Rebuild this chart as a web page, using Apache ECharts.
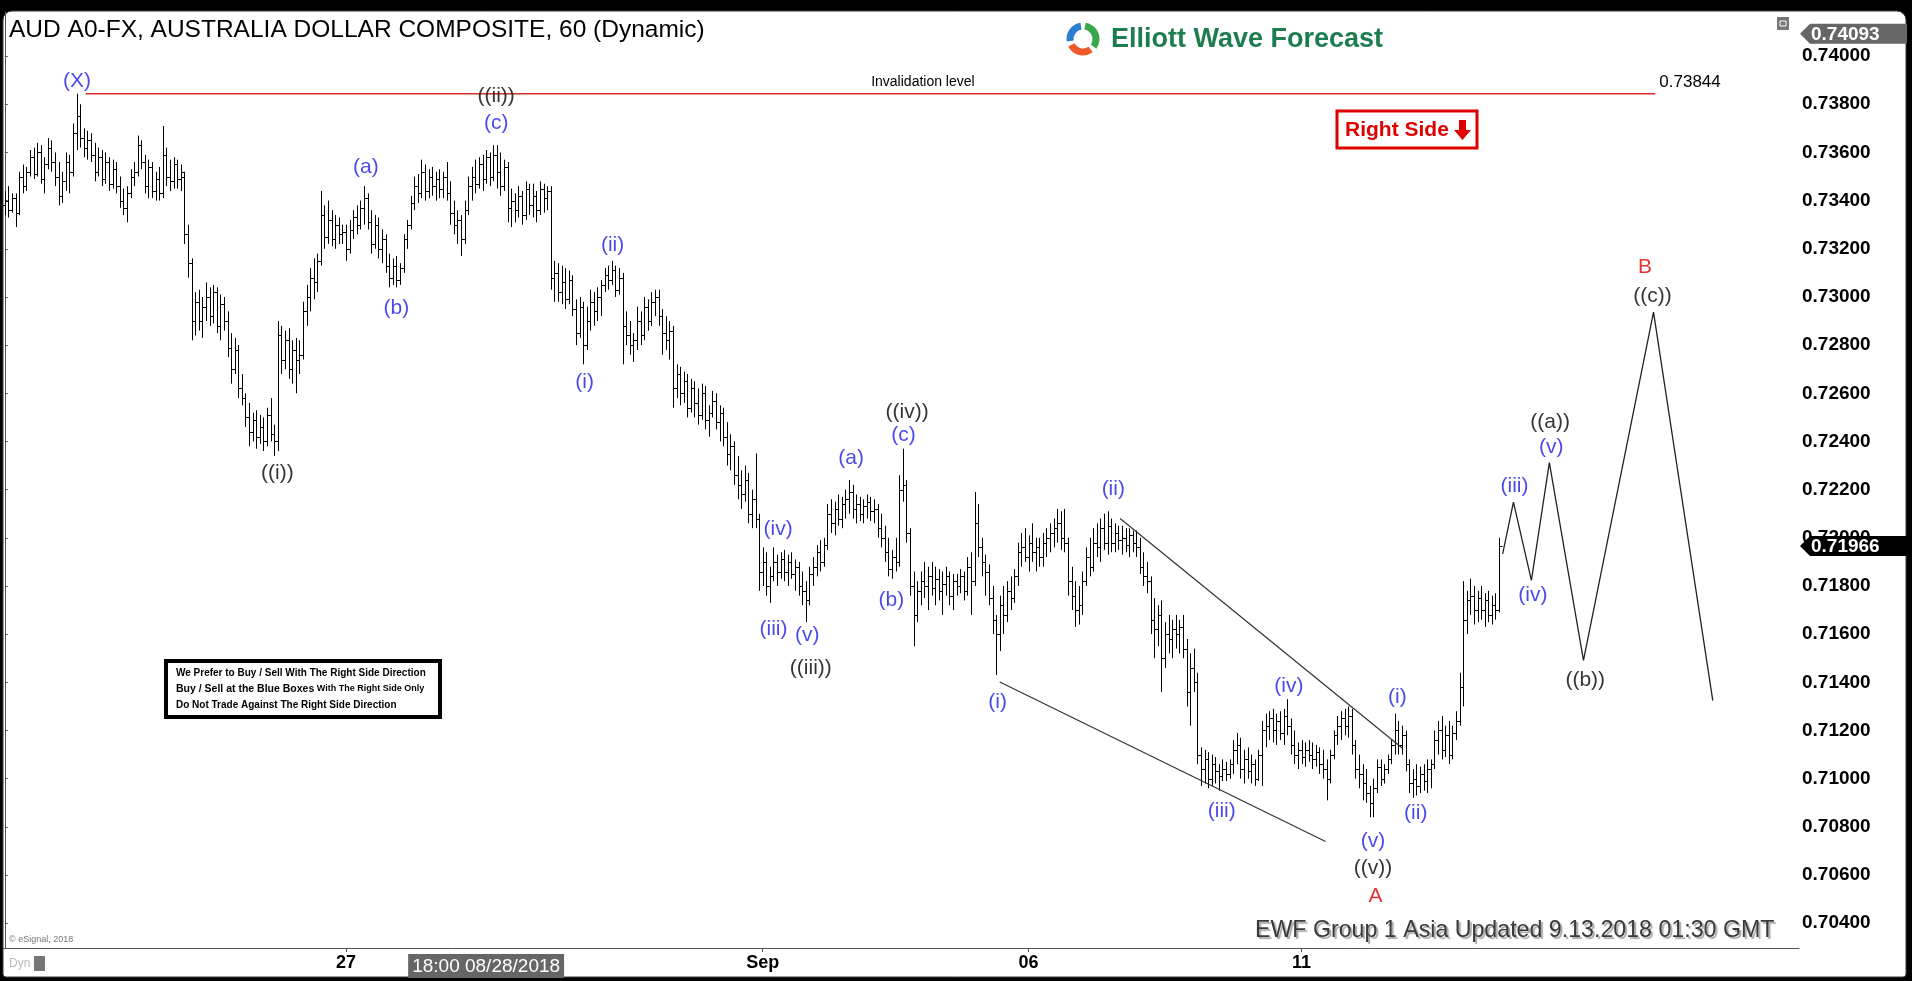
<!DOCTYPE html>
<html><head><meta charset="utf-8">
<script src="https://cdn.jsdelivr.net/npm/echarts@6.0.0/dist/echarts.min.js"></script>
<style>html,body{margin:0;padding:0;background:#000;overflow:hidden}#c{width:1912px;height:981px}</style>
</head><body><div id="c"></div>
<script>
// Hourly OHLC bars [open, high, low, close]
const priceBars = [
[0.7338,0.7344,0.7334,0.7340],[0.7340,0.7346,0.7333,0.7336],[0.7336,0.7343,0.7335,0.7341],[0.7341,0.7343,0.7329,0.7335],
[0.7335,0.7352,0.7334,0.7350],[0.7350,0.7355,0.7343,0.7346],[0.7346,0.7354,0.7344,0.7352],[0.7352,0.7361,0.7350,0.7358],
[0.7358,0.7362,0.7349,0.7351],[0.7351,0.7364,0.7350,0.7360],[0.7360,0.7363,0.7347,0.7349],[0.7349,0.7358,0.7343,0.7355],
[0.7355,0.7366,0.7353,0.7362],[0.7362,0.7365,0.7352,0.7356],[0.7356,0.7360,0.7346,0.7350],[0.7350,0.7356,0.7338,0.7342],
[0.7342,0.7352,0.7339,0.7348],[0.7348,0.7360,0.7344,0.7356],[0.7356,0.7359,0.7343,0.7352],[0.7352,0.7372,0.7350,0.7368],
[0.7368,0.73844,0.7361,0.7375],[0.7375,0.7380,0.7362,0.7366],[0.7366,0.7370,0.7358,0.7362],[0.7362,0.7369,0.7357,0.7365],
[0.7365,0.7368,0.7356,0.7359],[0.7359,0.7364,0.7348,0.7352],[0.7352,0.7362,0.7350,0.7358],[0.7358,0.7361,0.7346,0.7349],
[0.7349,0.7360,0.7347,0.7356],[0.7356,0.7358,0.7344,0.7347],[0.7347,0.7357,0.7345,0.7353],[0.7353,0.7356,0.7343,0.7346],
[0.7346,0.7350,0.7337,0.7340],[0.7340,0.7345,0.7334,0.7337],[0.7337,0.7346,0.7331,0.7343],[0.7343,0.7353,0.7341,0.7350],
[0.7350,0.7356,0.7346,0.7352],[0.7352,0.7367,0.7350,0.7363],[0.7363,0.7365,0.7353,0.7356],[0.7356,0.7359,0.7343,0.7346],
[0.7346,0.7357,0.7341,0.7354],[0.7354,0.7356,0.7341,0.7344],[0.7344,0.7352,0.7340,0.7349],[0.7349,0.7354,0.7340,0.7343],
[0.7343,0.7371,0.7341,0.7359],[0.7359,0.7362,0.7346,0.7350],[0.7350,0.7357,0.7344,0.7348],[0.7348,0.7358,0.7345,0.7355],
[0.7355,0.7357,0.7345,0.7349],[0.7349,0.7355,0.7344,0.7352],[0.7350,0.7352,0.7322,0.7326],[0.7326,0.7330,0.7308,0.7314],
[0.7314,0.7316,0.7282,0.7290],[0.7290,0.7302,0.7284,0.7298],[0.7298,0.7303,0.7286,0.7290],[0.7290,0.7300,0.7283,0.7296],
[0.7296,0.7306,0.7290,0.7300],[0.7300,0.7304,0.7288,0.7292],[0.7292,0.7305,0.7289,0.7302],[0.7302,0.7304,0.7285,0.7288],
[0.7288,0.7301,0.7282,0.7297],[0.7297,0.7300,0.7286,0.7290],[0.7290,0.7294,0.7275,0.7279],[0.7279,0.7285,0.7264,0.7270],
[0.7270,0.7283,0.7268,0.7278],[0.7278,0.7280,0.7258,0.7262],[0.7262,0.7268,0.7255,0.7258],[0.7258,0.7260,0.7246,0.7250],
[0.7250,0.7256,0.7238,0.7244],[0.7244,0.7252,0.7240,0.7249],[0.7249,0.7253,0.7237,0.7242],[0.7242,0.7251,0.7239,0.7246],
[0.7246,0.7250,0.7236,0.7240],[0.7240,0.7254,0.7238,0.7251],[0.7251,0.7258,0.7240,0.7243],[0.7243,0.7247,0.7234,0.7240],
[0.7240,0.7290,0.7236,0.7284],[0.7284,0.7288,0.7268,0.7274],[0.7274,0.7286,0.7270,0.7282],[0.7282,0.7287,0.7266,0.7270],
[0.7270,0.7282,0.7264,0.7278],[0.7278,0.7283,0.7260,0.7274],[0.7274,0.7282,0.7268,0.7276],[0.7276,0.7298,0.7274,0.7294],
[0.7294,0.7305,0.7288,0.7300],[0.7300,0.7312,0.7294,0.7308],[0.7308,0.7316,0.7299,0.7306],[0.7306,0.7318,0.7302,0.7315],
[0.7315,0.7344,0.7313,0.7334],[0.7334,0.7338,0.7320,0.7325],[0.7325,0.7340,0.7322,0.7332],[0.7332,0.7336,0.7321,0.7324],
[0.7324,0.7334,0.7320,0.7330],[0.7330,0.7333,0.7322,0.7326],[0.7326,0.7330,0.7322,0.7327],[0.7327,0.7330,0.7315,0.7320],
[0.7320,0.7332,0.7318,0.7328],[0.7328,0.7336,0.7324,0.7333],[0.7333,0.7338,0.7326,0.7330],[0.7330,0.7340,0.7328,0.7337],
[0.7337,0.7346,0.7330,0.7341],[0.7341,0.7343,0.7328,0.7331],[0.7331,0.7336,0.7318,0.7322],[0.7322,0.7334,0.7320,0.7330],
[0.7330,0.7333,0.7316,0.7320],[0.7320,0.7328,0.7314,0.7324],[0.7324,0.7326,0.7310,0.7313],[0.7313,0.7318,0.7304,0.7308],
[0.7308,0.7316,0.7305,0.7313],[0.7313,0.7317,0.7304,0.7307],[0.7307,0.7314,0.7305,0.7312],[0.7312,0.7326,0.7310,0.7324],
[0.7324,0.7332,0.7320,0.7330],[0.7330,0.7342,0.7328,0.7339],[0.7339,0.7350,0.7336,0.7346],[0.7346,0.7351,0.7339,0.7343],
[0.7343,0.7357,0.7341,0.7352],[0.7352,0.7355,0.7340,0.7344],[0.7344,0.7353,0.7341,0.7350],[0.7350,0.7354,0.7342,0.7346],
[0.7346,0.7352,0.7340,0.7349],[0.7349,0.7353,0.7341,0.7345],[0.7345,0.7352,0.7341,0.7350],[0.7350,0.7356,0.7340,0.7343],
[0.7343,0.7348,0.7330,0.7335],[0.7335,0.7340,0.7326,0.7330],[0.7330,0.7336,0.7322,0.7332],[0.7332,0.7334,0.7317,0.7324],
[0.7324,0.7340,0.7322,0.7336],[0.7336,0.7350,0.7334,0.7346],[0.7346,0.7354,0.7340,0.7350],[0.7350,0.7357,0.7343,0.7347],
[0.7347,0.7358,0.7345,0.7355],[0.7355,0.7359,0.7344,0.7349],[0.7349,0.7361,0.7347,0.7358],[0.7358,0.7360,0.7346,0.7350],
[0.7350,0.7363,0.7348,0.7359],[0.7359,0.7363,0.7345,0.7352],[0.7352,0.7360,0.7342,0.7346],[0.7346,0.7357,0.7344,0.7354],
[0.7354,0.7356,0.7331,0.7337],[0.7337,0.7345,0.7329,0.7340],[0.7340,0.7343,0.7331,0.7336],[0.7336,0.7346,0.7333,0.7342],
[0.7342,0.7344,0.7330,0.7334],[0.7334,0.7348,0.7332,0.7345],[0.7345,0.7347,0.7334,0.7338],[0.7338,0.7347,0.7333,0.7342],
[0.7342,0.7344,0.7331,0.7336],[0.7336,0.7348,0.7334,0.7345],[0.7345,0.7347,0.7335,0.7341],[0.7341,0.7346,0.7336,0.7344],
[0.7344,0.7346,0.7303,0.7308],[0.7308,0.7315,0.7298,0.7310],[0.7310,0.7314,0.7298,0.7302],[0.7302,0.7313,0.7297,0.7306],
[0.7306,0.7312,0.7295,0.7299],[0.7299,0.7311,0.7297,0.7307],[0.7307,0.7309,0.7292,0.7295],[0.7295,0.7299,0.7280,0.7285],
[0.7285,0.7300,0.7283,0.7296],[0.7296,0.7298,0.7272,0.7280],[0.7280,0.7296,0.7278,0.7290],[0.7290,0.7303,0.7286,0.7298],
[0.7298,0.7302,0.7288,0.7294],[0.7294,0.7304,0.7290,0.7300],[0.7300,0.7307,0.7292,0.7305],[0.7305,0.7312,0.7302,0.7309],
[0.7309,0.7313,0.7303,0.7307],[0.7307,0.7315,0.7305,0.7311],[0.7311,0.7313,0.7300,0.7303],[0.7303,0.7312,0.7301,0.7308],
[0.7308,0.7310,0.7272,0.7288],[0.7288,0.7294,0.7280,0.7284],[0.7284,0.7290,0.7276,0.7280],[0.7280,0.7285,0.7273,0.7282],
[0.7282,0.7296,0.7278,0.7290],[0.7290,0.7294,0.7280,0.7284],[0.7284,0.7300,0.7282,0.7296],[0.7296,0.7299,0.7286,0.7290],
[0.7290,0.7302,0.7288,0.7298],[0.7298,0.7303,0.7292,0.7300],[0.7300,0.7303,0.7288,0.7292],[0.7292,0.7295,0.7276,0.7285],
[0.7285,0.7292,0.7278,0.7282],[0.7282,0.7290,0.7274,0.7286],[0.7286,0.7288,0.7254,0.7262],[0.7262,0.7272,0.7258,0.7268],
[0.7268,0.7271,0.7255,0.7260],[0.7260,0.7269,0.7256,0.7265],[0.7265,0.7268,0.7250,0.7254],[0.7254,0.7266,0.7252,0.7262],
[0.7262,0.7265,0.7250,0.7256],[0.7256,0.7262,0.7247,0.7251],[0.7251,0.7264,0.7249,0.7260],[0.7260,0.7263,0.7245,0.7249],
[0.7249,0.7255,0.7242,0.7252],[0.7252,0.7261,0.7250,0.7257],[0.7257,0.7260,0.7245,0.7248],[0.7248,0.7255,0.7240,0.7252],
[0.7252,0.7254,0.7238,0.7242],[0.7242,0.7248,0.7230,0.7235],[0.7235,0.7243,0.7228,0.7238],[0.7238,0.7240,0.7222,0.7226],
[0.7226,0.7234,0.7216,0.7222],[0.7222,0.7228,0.7212,0.7218],[0.7218,0.7230,0.7215,0.7224],[0.7224,0.7227,0.7206,0.7210],
[0.7210,0.7220,0.7204,0.7216],[0.7216,0.7235,0.7204,0.7208],[0.7208,0.7210,0.7178,0.7186],[0.7186,0.7196,0.7180,0.7190],
[0.7190,0.7194,0.7176,0.7180],[0.7180,0.7188,0.7173,0.7184],[0.7184,0.7196,0.7182,0.7190],[0.7190,0.7193,0.7180,0.7186],
[0.7186,0.7194,0.7183,0.7191],[0.7191,0.7195,0.7182,0.7186],[0.7186,0.7193,0.7180,0.7190],[0.7190,0.7194,0.7183,0.7185],
[0.7185,0.7191,0.7178,0.7188],[0.7188,0.7190,0.7176,0.7180],[0.7180,0.7186,0.7172,0.7178],[0.7178,0.7182,0.7165,0.7174],
[0.7174,0.7188,0.7172,0.7185],[0.7185,0.7192,0.7180,0.7188],[0.7188,0.7197,0.7184,0.7194],[0.7194,0.7199,0.7186,0.7190],
[0.7190,0.7200,0.7188,0.7197],[0.7197,0.7214,0.7195,0.7210],[0.7210,0.7216,0.7202,0.7206],[0.7206,0.7215,0.7201,0.7212],
[0.7212,0.7218,0.7205,0.7208],[0.7208,0.7217,0.7204,0.7214],[0.7214,0.7220,0.7208,0.7216],[0.7216,0.7224,0.7210,0.7219],
[0.7219,0.7222,0.7208,0.7212],[0.7212,0.7218,0.7206,0.7214],[0.7214,0.7217,0.7207,0.7210],[0.7210,0.7216,0.7206,0.7213],
[0.7213,0.7218,0.7208,0.7215],[0.7215,0.7217,0.7207,0.7211],[0.7211,0.7216,0.7206,0.7212],[0.7212,0.7214,0.7200,0.7204],
[0.7204,0.7210,0.7196,0.7200],[0.7200,0.7205,0.7190,0.7194],[0.7194,0.7200,0.7184,0.7187],[0.7187,0.7195,0.7183,0.7192],
[0.7192,0.7200,0.7186,0.7190],[0.7190,0.7226,0.7188,0.7220],[0.7220,0.7237,0.7215,0.7222],[0.7222,0.7224,0.7198,0.7202],
[0.7202,0.7204,0.7176,0.7180],[0.7180,0.7186,0.7155,0.7168],[0.7168,0.7182,0.7165,0.7178],[0.7178,0.7186,0.7172,0.7182],
[0.7182,0.7190,0.7175,0.7180],[0.7180,0.7188,0.7170,0.7184],[0.7184,0.7190,0.7176,0.7179],[0.7179,0.7188,0.7172,0.7183],
[0.7183,0.7187,0.7174,0.7178],[0.7178,0.7186,0.7168,0.7181],[0.7181,0.7188,0.7176,0.7184],[0.7184,0.7186,0.7172,0.7176],
[0.7176,0.7185,0.7170,0.7182],[0.7182,0.7185,0.7176,0.7180],[0.7180,0.7187,0.7177,0.7184],[0.7184,0.7186,0.7174,0.7178],
[0.7178,0.7192,0.7176,0.7188],[0.7188,0.7194,0.7168,0.7182],[0.7182,0.7219,0.7180,0.7206],[0.7206,0.7214,0.7192,0.7196],
[0.7196,0.7200,0.7184,0.7190],[0.7190,0.7193,0.7176,0.7186],[0.7186,0.7189,0.7172,0.7175],[0.7175,0.7180,0.7160,0.7166],
[0.7166,0.7168,0.7143,0.7160],[0.7160,0.7176,0.7153,0.7172],[0.7172,0.7180,0.7160,0.7168],[0.7168,0.7182,0.7165,0.7178],
[0.7178,0.7184,0.7170,0.7175],[0.7175,0.7187,0.7173,0.7184],[0.7184,0.7198,0.7180,0.7194],[0.7194,0.7202,0.7188,0.7196],
[0.7196,0.7204,0.7190,0.7192],[0.7192,0.7201,0.7186,0.7198],[0.7198,0.7206,0.7190,0.7194],[0.7194,0.7200,0.7186,0.7196],
[0.7196,0.7200,0.7188,0.7192],[0.7192,0.7202,0.7188,0.7198],[0.7198,0.7204,0.7192,0.7200],[0.7200,0.7206,0.7194,0.7202],
[0.7202,0.7208,0.7196,0.7204],[0.7204,0.7212,0.7198,0.7206],[0.7206,0.7211,0.7195,0.7200],[0.7200,0.7212,0.7194,0.7198],
[0.7198,0.7200,0.7176,0.7182],[0.7182,0.7188,0.7170,0.7176],[0.7176,0.7182,0.7163,0.7170],[0.7170,0.7180,0.7164,0.7172],
[0.7172,0.7186,0.7168,0.7182],[0.7182,0.7196,0.7180,0.7192],[0.7192,0.7200,0.7184,0.7188],[0.7188,0.7204,0.7186,0.7198],
[0.7198,0.7206,0.7192,0.7196],[0.7196,0.7208,0.7190,0.7204],[0.7204,0.7210,0.7195,0.7198],[0.7198,0.7211,0.7193,0.7205],
[0.7205,0.7208,0.7194,0.7198],[0.7198,0.7206,0.7194,0.7202],[0.7202,0.7205,0.7195,0.7199],[0.7199,0.7205,0.7193,0.7200],
[0.7200,0.7204,0.7194,0.7197],[0.7197,0.7204,0.7192,0.7201],[0.7201,0.7203,0.7194,0.7198],[0.7198,0.7203,0.7192,0.7196],
[0.7196,0.7200,0.7185,0.7188],[0.7188,0.7194,0.7180,0.7184],[0.7184,0.7190,0.7177,0.7182],[0.7182,0.7184,0.7160,0.7166],
[0.7166,0.7175,0.7150,0.7162],[0.7162,0.7172,0.7155,0.7168],[0.7168,0.7174,0.7136,0.7150],[0.7150,0.7165,0.7146,0.7160],
[0.7160,0.7168,0.7152,0.7158],[0.7158,0.7166,0.7150,0.7162],[0.7162,0.7168,0.7154,0.7160],[0.7160,0.7166,0.7152,0.7163],
[0.7163,0.7168,0.7150,0.7154],[0.7154,0.7158,0.7130,0.7136],[0.7136,0.7152,0.7122,0.7146],[0.7146,0.7154,0.7136,0.7140],
[0.7140,0.7144,0.7106,0.7110],[0.7110,0.7113,0.7097,0.7104],[0.7104,0.7112,0.7098,0.7108],[0.7108,0.7111,0.7096,0.7100],
[0.7100,0.7110,0.7097,0.7106],[0.7106,0.7109,0.7098,0.7103],[0.7103,0.7106,0.7095,0.7101],[0.7101,0.7108,0.7099,0.7104],
[0.7104,0.7107,0.7099,0.7102],[0.7102,0.7108,0.7100,0.7106],[0.7106,0.7116,0.7102,0.7112],[0.7112,0.7119,0.7106,0.7114],
[0.7114,0.7117,0.7100,0.7104],[0.7104,0.7112,0.7098,0.7108],[0.7108,0.7113,0.7100,0.7103],[0.7103,0.7110,0.7098,0.7106],
[0.7106,0.7108,0.7097,0.7100],[0.7100,0.7112,0.7099,0.7110],[0.7110,0.7124,0.7097,0.7120],[0.7120,0.7127,0.7113,0.7122],
[0.7122,0.7128,0.7116,0.7125],[0.7125,0.7129,0.7115,0.7120],[0.7120,0.7127,0.7114,0.7124],[0.7124,0.7128,0.7116,0.7119],
[0.7119,0.7129,0.7114,0.7126],[0.7126,0.7133,0.7118,0.7122],[0.7122,0.7125,0.7110,0.7114],[0.7114,0.7120,0.7106,0.7110],
[0.7110,0.7115,0.7104,0.7112],[0.7112,0.7116,0.7106,0.7109],[0.7109,0.7115,0.7105,0.7112],[0.7112,0.7116,0.7107,0.7110],
[0.7110,0.7115,0.7104,0.7108],[0.7108,0.7114,0.7105,0.7111],[0.7111,0.7113,0.7102,0.7106],[0.7106,0.7112,0.7100,0.7104],
[0.7104,0.7108,0.7091,0.7100],[0.7100,0.7112,0.7098,0.7110],[0.7110,0.7120,0.7108,0.7118],[0.7118,0.7126,0.7114,0.7122],
[0.7122,0.7128,0.7116,0.7125],[0.7125,0.7129,0.7118,0.7122],[0.7122,0.7130,0.7117,0.7126],[0.7126,0.7129,0.7110,0.7114],
[0.7114,0.7116,0.7100,0.7104],[0.7104,0.7110,0.7096,0.7102],[0.7102,0.7106,0.7091,0.7098],[0.7098,0.7104,0.7090,0.7094],
[0.7094,0.7097,0.7084,0.7090],[0.7090,0.7100,0.7084,0.7096],[0.7096,0.7108,0.7094,0.7105],[0.7105,0.7108,0.7097,0.7100],
[0.7100,0.7106,0.7098,0.7104],[0.7104,0.7110,0.7102,0.7108],[0.7108,0.7116,0.7106,0.7114],[0.7114,0.7127,0.7110,0.7120],
[0.7120,0.7124,0.7110,0.7114],[0.7114,0.7122,0.7110,0.7118],[0.7118,0.7120,0.7103,0.7106],[0.7106,0.7108,0.7094,0.7098],
[0.7098,0.7104,0.7092,0.7100],[0.7100,0.7106,0.7093,0.7097],[0.7097,0.7105,0.7094,0.7102],[0.7102,0.7106,0.7095,0.7099],
[0.7099,0.7108,0.7094,0.7104],[0.7104,0.7108,0.7096,0.7106],[0.7106,0.7120,0.7104,0.7116],[0.7116,0.7124,0.7110,0.7120],
[0.7120,0.7126,0.7108,0.7112],[0.7112,0.7122,0.7109,0.7118],[0.7118,0.7124,0.7106,0.7110],[0.7110,0.7122,0.7108,0.7119],
[0.7119,0.7128,0.7116,0.7124],[0.7124,0.7144,0.7122,0.7138],[0.7138,0.7182,0.7130,0.7166],[0.7166,0.7178,0.7160,0.7174],
[0.7174,0.7183,0.7168,0.7176],[0.7176,0.7180,0.7164,0.7170],[0.7170,0.7178,0.7165,0.7175],[0.7175,0.7180,0.7166,0.7170],
[0.7170,0.7177,0.7163,0.7174],[0.7174,0.7178,0.7165,0.7168],[0.7168,0.7176,0.7164,0.7172],[0.7172,0.7177,0.7166,0.7170],
[0.7170,0.7200,0.7169,0.71966]
];

// x axis (hour-bar slot index) tick labels
const dayTickIdx = [95, 211, 285, 361];
const dayTickText = ['27', 'Sep', '06', '11'];
const crosshairIdx = 134;
const crosshairText = '18:00 08/28/2018';
const slotCount = 500;

// price axis ticks
const priceTicks = [0.704,0.706,0.708,0.710,0.712,0.714,0.716,0.718,0.720,0.722,0.724,0.726,0.728,0.730,0.732,0.734,0.736,0.738,0.740];
const priceMin = 0.70297, priceMax = 0.74183;
const invalidationLevel = 0.73844;
const invalidationSpan = [22.5, 459.5];
const lastPrice = 0.71966;
const highPrice = 0.74093;

// projected path and channel lines [slot, price]
const projection = [[417,0.71933],[420,0.72148],[425,0.71823],[430,0.72312],[439.5,0.71491],[459,0.72937],[475.5,0.71324]];
const upperChannel = [[310.5,0.72080],[389.1,0.71126]];
const lowerChannel = [[277.0,0.71401],[367.7,0.70739]];

// wave labels [slot, price, text]
const blueLabels = [
[20.1,0.73894,'(X)'],[100.5,0.73539,'(a)'],[109.0,0.72952,'(b)'],[136.8,0.73722,'(c)'],
[161.4,0.72648,'(i)'],[169.2,0.73215,'(ii)'],[214.0,0.71620,'(iii)'],[215.3,0.72036,'(iv)'],
[223.4,0.71595,'(v)'],[235.6,0.72329,'(a)'],[246.8,0.71742,'(b)'],[250.2,0.72425,'(c)'],
[276.4,0.71317,'(i)'],[308.6,0.72203,'(ii)'],[338.8,0.70866,'(iii)'],[357.5,0.71382,'(iv)'],
[380.9,0.70739,'(v)'],[387.7,0.71337,'(i)'],[392.8,0.70856,'(ii)'],[420.3,0.72213,'(iii)'],
[425.4,0.71762,'(iv)'],[430.5,0.72375,'(v)']
];
const blackLabels = [
[75.9,0.72268,'((i))'],[136.8,0.73833,'((ii))'],[224.4,0.71458,'((iii))'],[251.2,0.72522,'((iv))'],
[380.9,0.70628,'((v))'],[430.2,0.72481,'((a))'],[440.0,0.71408,'((b))'],[458.7,0.73003,'((c))']
];
const redLabels = [[381.6,0.70512,'A'],[456.6,0.73124,'B']];
const invalidationText = [255.6, 0.73891, 'Invalidation level'];

const FONT = '"Liberation Sans", Arial, sans-serif';
const chart = echarts.init(document.getElementById('c'), null, {renderer: 'canvas'});

function labelSeries(data, color, size) {
  return {
    type: 'scatter', data: data, symbolSize: 0, silent: true, z: 6,
    label: {show: true, position: 'inside', formatter: p => p.data[2], color: color,
            fontSize: size, fontFamily: FONT}
  };
}
function lineSeries(data, color, width) {
  return {type: 'line', data: data, symbol: 'none', silent: true, z: 4,
          lineStyle: {color: color, width: width}};
}

const staticGraphics = [
  {type: 'rect', z: -10, shape: {x: 3, y: 11, width: 1903, height: 966, r: [9, 9, 3, 3]},
   style: {fill: '#fff', stroke: '#3a3a3a', lineWidth: 1}},
  {type: 'text', x: 9, y: 30, z: 10, style: {text: 'AUD A0-FX, AUSTRALIA DOLLAR COMPOSITE, 60 (Dynamic)',
   font: '24.5px ' + FONT, fill: '#000', verticalAlign: 'middle'}},
  // logo
  {type: 'arc', z: 10, shape: {cx: 1083, cy: 39, r: 13, startAngle: -Math.PI * 0.45, endAngle: Math.PI * 0.2},
   style: {stroke: '#3aa64a', lineWidth: 7, fill: null}},
  {type: 'arc', z: 10, shape: {cx: 1083, cy: 39, r: 13, startAngle: Math.PI * 0.3, endAngle: Math.PI * 0.85},
   style: {stroke: '#ef5a28', lineWidth: 7, fill: null}},
  {type: 'arc', z: 10, shape: {cx: 1083, cy: 39, r: 13, startAngle: Math.PI * 0.95, endAngle: Math.PI * 1.45},
   style: {stroke: '#2a7fd0', lineWidth: 7, fill: null}},
  {type: 'text', x: 1111, y: 40, z: 10, style: {text: 'Elliott Wave Forecast', font: 'bold 27px ' + FONT,
   fill: '#1d7d4f', verticalAlign: 'middle'}},
  // Right side box
  {type: 'rect', z: 10, shape: {x: 1337, y: 111, width: 140, height: 37},
   style: {fill: '#fff', stroke: '#e00000', lineWidth: 3}},
  {type: 'text', x: 1345, y: 130, z: 11, style: {text: 'Right Side', font: 'bold 21px ' + FONT,
   fill: '#e00000', verticalAlign: 'middle'}},
  {type: 'polygon', z: 11, shape: {points: [[1459, 120], [1466, 120], [1466, 130], [1471, 130], [1462.5, 140], [1454, 130], [1459, 130]]},
   style: {fill: '#e00000'}},
  // info box
  {type: 'rect', z: 10, shape: {x: 166, y: 661, width: 274, height: 56},
   style: {fill: '#fff', stroke: '#000', lineWidth: 4}},
  {type: 'text', x: 176, y: 673, z: 11, style: {text: 'We Prefer to Buy / Sell With The Right Side Direction',
   font: 'bold 10px ' + FONT, fill: '#000', verticalAlign: 'middle'}},
  {type: 'text', x: 176, y: 689, z: 11, style: {text: '{a|Buy / Sell at the Blue Boxes}{b| With The Right Side Only}',
   verticalAlign: 'middle', rich: {a: {font: 'bold 10.5px ' + FONT, fill: '#000'}, b: {font: 'bold 9px ' + FONT, fill: '#000'}}}},
  {type: 'text', x: 176, y: 705, z: 11, style: {text: 'Do Not Trade Against The Right Side Direction',
   font: 'bold 10px ' + FONT, fill: '#000', verticalAlign: 'middle'}},
  // footer text
  {type: 'text', x: 1255, y: 931, z: 10, style: {text: 'EWF Group 1 Asia Updated 9.13.2018 01:30 GMT',
   font: '23.2px ' + FONT, fill: '#3a3a3a', verticalAlign: 'middle',
   textShadowColor: 'rgba(0,0,0,0.35)', textShadowOffsetX: 2, textShadowOffsetY: 2, textShadowBlur: 1}},
  {type: 'text', x: 9, y: 940, z: 10, style: {text: '\u00a9 eSignal, 2018', font: '9px ' + FONT, fill: '#777', verticalAlign: 'middle'}},
  {type: 'text', x: 9, y: 964, z: 10, style: {text: 'Dyn', font: '12px ' + FONT, fill: '#bbb', verticalAlign: 'middle'}},
  {type: 'rect', z: 10, shape: {x: 34, y: 956, width: 11, height: 15}, style: {fill: '#777'}},
  {type: 'rect', z: 10, shape: {x: 1777, y: 17, width: 12, height: 13}, style: {fill: '#777'}},
  {type: 'rect', z: 11, shape: {x: 1780, y: 21, width: 6, height: 5}, style: {fill: 'none', stroke: '#fff', lineWidth: 1}}
];

const option = {
  animation: false,
  backgroundColor: '#000',
  grid: {left: 3, right: 113, top: 12, bottom: 33, show: false},
  xAxis: {
    type: 'value', min: -0.5, max: slotCount - 0.5,
    axisLine: {show: true, lineStyle: {color: '#555', width: 1}},
    axisTick: {show: true, customValues: dayTickIdx, length: 4, lineStyle: {color: '#555'}},
    splitLine: {show: false},
    axisLabel: {
      customValues: dayTickIdx.concat([crosshairIdx]), margin: 6,
      fontFamily: FONT, fontSize: 18, fontWeight: 'bold', color: '#000',
      formatter: function (v) {
        if (v === crosshairIdx) return '{box|' + crosshairText + '}';
        const k = dayTickIdx.indexOf(v);
        return k >= 0 ? dayTickText[k] : '';
      },
      rich: {box: {backgroundColor: '#666', color: '#fff', fontWeight: 'normal', fontSize: 19,
                   fontFamily: FONT, padding: [3, 4, 2, 4]}}
    }
  },
  yAxis: {
    type: 'value', position: 'right', min: priceMin, max: priceMax, scale: true,
    axisLine: {show: true, lineStyle: {color: '#555', width: 1}},
    axisTick: {show: true, customValues: priceTicks, length: 3, lineStyle: {color: '#555'}},
    splitLine: {show: false},
    axisLabel: {customValues: priceTicks, margin: 3, fontFamily: FONT, fontSize: 19, fontWeight: 'bold',
                color: '#000', formatter: v => v.toFixed(5)}
  },
  series: [
    {
      type: 'custom', silent: true, z: 3,
      data: priceBars.map((b, i) => [i, b[0], b[1], b[2], b[3]]),
      encode: {x: 0, y: [1, 2, 3, 4]},
      renderItem: function (params, api) {
        const i = api.value(0);
        const pO = api.coord([i, api.value(1)]);
        const pH = api.coord([i, api.value(2)]);
        const pL = api.coord([i, api.value(3)]);
        const pC = api.coord([i, api.value(4)]);
        const x = Math.round(pH[0]) + 0.5;
        const st = {stroke: '#000', lineWidth: 1};
        return {type: 'group', children: [
          {type: 'line', shape: {x1: x, y1: pH[1], x2: x, y2: pL[1]}, style: st},
          {type: 'line', shape: {x1: x - 3, y1: Math.round(pO[1]) + 0.5, x2: x, y2: Math.round(pO[1]) + 0.5}, style: st},
          {type: 'line', shape: {x1: x, y1: Math.round(pC[1]) + 0.5, x2: x + 3, y2: Math.round(pC[1]) + 0.5}, style: st}
        ]};
      }
    },
    lineSeries([[invalidationSpan[0], invalidationLevel], [invalidationSpan[1], invalidationLevel]], '#d82a2a', 1.5),
    lineSeries(projection, '#222', 1.3),
    lineSeries(upperChannel, '#333', 1.2),
    lineSeries(lowerChannel, '#333', 1.2),
    labelSeries(blueLabels, '#1a1ae6', 21),
    labelSeries(blackLabels, '#000', 21),
    labelSeries(redLabels, '#e00000', 21)
  ],
  graphic: {elements: staticGraphics}
};
chart.setOption(option);

// price tags and level texts positioned through the axis scales
function tag(price, fill) {
  const y = chart.convertToPixel({yAxisIndex: 0}, price);
  const x0 = chart.convertToPixel({xAxisIndex: 0}, slotCount - 0.5);
  return [
    {type: 'polygon', z: 50, shape: {points: [[x0 + 1, y], [x0 + 11, y - 10], [1907, y - 10], [1907, y + 10], [x0 + 11, y + 10]]},
     style: {fill: fill}},
    {type: 'text', x: x0 + 12, y: y + 1, z: 51, style: {text: price.toFixed(5), font: 'bold 19px ' + FONT,
     fill: '#fff', verticalAlign: 'middle'}}
  ];
}
const invY = chart.convertToPixel({yAxisIndex: 0}, invalidationText[1]);
const invX = chart.convertToPixel({xAxisIndex: 0}, invalidationText[0]);
const lvlX = chart.convertToPixel({xAxisIndex: 0}, invalidationSpan[1]);
const lvlY = chart.convertToPixel({yAxisIndex: 0}, invalidationLevel);
const dyn = [].concat(tag(highPrice, '#666'), tag(lastPrice, '#000'), [
  {type: 'text', x: invX, y: invY, z: 10, style: {text: invalidationText[2], font: '14px ' + FONT, fill: '#000',
   align: 'center', verticalAlign: 'middle'}},
  {type: 'text', x: lvlX + 4, y: lvlY - 11, z: 10, style: {text: invalidationLevel.toFixed(5), font: '17px ' + FONT,
   fill: '#000', verticalAlign: 'middle'}}
]);
chart.setOption({graphic: {elements: staticGraphics.concat(dyn)}});
</script>
</body></html>
